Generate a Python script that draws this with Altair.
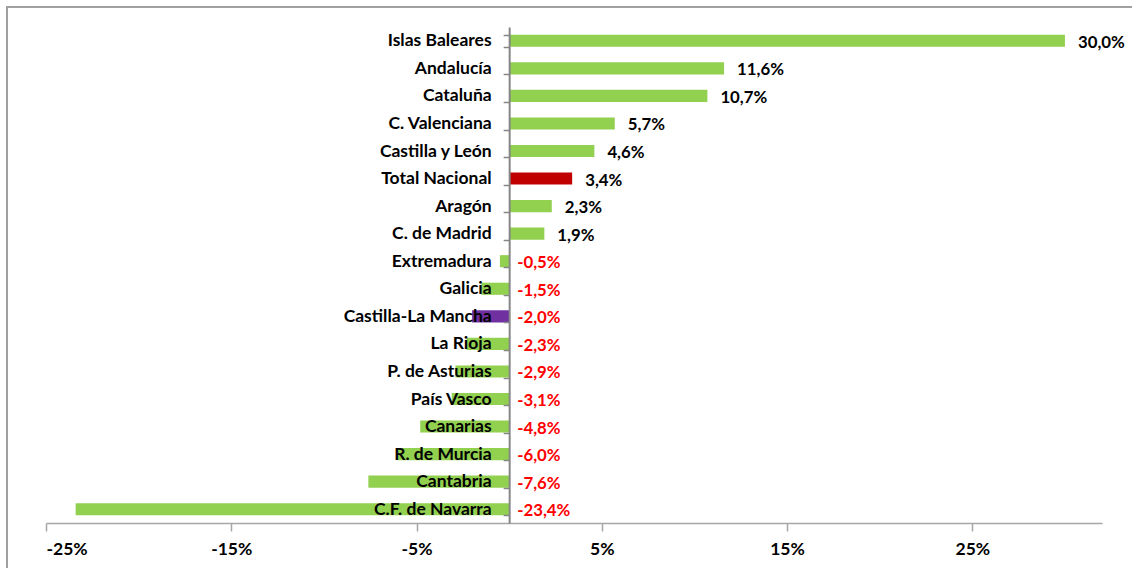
import altair as alt
import pandas as pd

regions = ["Islas Baleares", "Andalucía", "Cataluña", "C. Valenciana", "Castilla y León",
           "Total Nacional", "Aragón", "C. de Madrid", "Extremadura", "Galicia",
           "Castilla-La Mancha", "La Rioja", "P. de Asturias", "País Vasco", "Canarias",
           "R. de Murcia", "Cantabria", "C.F. de Navarra"]
values = [30.0, 11.6, 10.7, 5.7, 4.6, 3.4, 2.3, 1.9, -0.5, -1.5, -2.0, -2.3, -2.9, -3.1,
          -4.8, -6.0, -7.6, -23.4]
groups = ["Comunidad"] * 5 + ["Total"] + ["Comunidad"] * 4 + ["Destacada"] + ["Comunidad"] * 7
tick_values = [-25, -15, -5, 5, 15, 25]

df = pd.DataFrame({"region": regions, "value": values, "group": groups})
df["label"] = [f"{v:.1f}".replace(".", ",") + "%" for v in values]
df["labelpos"] = [v if v >= 0 else 0 for v in values]

FONT = "Lato"
W, H = 1056, 496

xscale = alt.Scale(domain=[-25, 32], nice=False, zero=False)
yscale = alt.Scale(domain=regions, paddingInner=0.56, paddingOuter=0.28)

bars = alt.Chart(df).mark_bar().encode(
    x=alt.X("value:Q", scale=xscale,
            axis=alt.Axis(values=tick_values, labelExpr="datum.value + '%'", title=None,
                          grid=False, domainColor="#A6A6A6", domainWidth=1.5,
                          tickColor="#A6A6A6", tickWidth=1.5, tickSize=8, labelPadding=9,
                          labelFont=FONT, labelFontSize=17.5, labelFontWeight="bold",
                          labelColor="#000000")),
    y=alt.Y("region:N", sort=regions, scale=yscale,
            axis=alt.Axis(title=None, offset=-(25 / 57 * W), tickBand="extent", tickSize=6,
                          tickColor="#868686", tickWidth=1.5, domainColor="#868686",
                          domainWidth=2, labelPadding=12, labelFont=FONT, labelFontSize=17.5,
                          labelFontWeight="bold", labelColor="#000000", zindex=1)),
    color=alt.Color("group:N", scale=alt.Scale(domain=["Comunidad", "Total", "Destacada"],
                                               range=["#92D050", "#C00000", "#7030A0"]),
                    legend=None),
)

pos_text = alt.Chart(df).transform_filter("datum.value >= 0").mark_text(
    align="left", baseline="middle", dx=13, dy=2, font=FONT, fontSize=16.8,
    fontWeight="bold", color="#000000").encode(
    x=alt.X("labelpos:Q", scale=xscale),
    y=alt.Y("region:N", sort=regions, scale=yscale),
    text="label:N",
)

neg_text = alt.Chart(df).transform_filter("datum.value < 0").mark_text(
    align="left", baseline="middle", dx=8, dy=2, font=FONT, fontSize=16.8,
    fontWeight="bold", color="#FF0000").encode(
    x=alt.X("labelpos:Q", scale=xscale),
    y=alt.Y("region:N", sort=regions, scale=yscale),
    text="label:N",
)

border = alt.Chart(df).mark_rect(fill="transparent", stroke="#A0A0A0", strokeWidth=2,
                                 clip=False).encode(
    x=alt.value(-39), x2=alt.value(1120), y=alt.value(-20), y2=alt.value(560))

chart = alt.layer(border, bars, pos_text, neg_text).properties(
    width=W, height=H,
    background="#FFFFFF",
    autosize=alt.AutoSizeParams(type="none"),
    padding={"left": 46, "top": 27, "right": 30, "bottom": 45},
).configure_view(strokeWidth=0, stroke="transparent")

chart.save("out.html", embed_options={"renderer": "svg", "actions": False})
